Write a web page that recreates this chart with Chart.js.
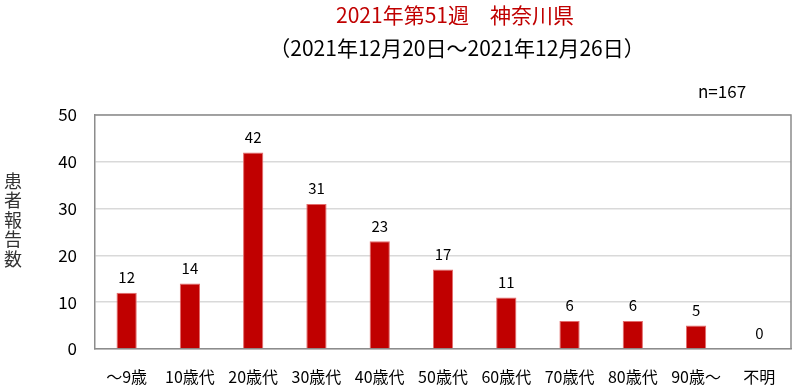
<!DOCTYPE html>
<html>
<head>
<meta charset="utf-8">
<script src="https://cdn.jsdelivr.net/npm/chart.js@4"></script>
<style>
  html, body { margin: 0; padding: 0; background: #fff; }
  #wrap { width: 794px; height: 390px; position: relative; }
</style>
</head>
<body>
<div id="wrap"><canvas id="chart" width="794" height="390"></canvas></div>
<script>
// chart data
const categories = ['～9歳', '10歳代', '20歳代', '30歳代', '40歳代', '50歳代', '60歳代', '70歳代', '80歳代', '90歳～', '不明'];
const patients = [12, 14, 42, 31, 23, 17, 11, 6, 6, 5, 0];
const yTicks = [0, 10, 20, 30, 40, 50];
const titleText = '2021年第51週　神奈川県';
const subtitleText = '（2021年12月20日～2021年12月26日）';
const countText = 'n=167';
const yTitle = '患者報告数';

const FONT = "'Noto Sans CJK JP', 'Noto Sans', sans-serif";

// draws titles, n=, vertical axis title and the value labels
const textPlugin = {
  id: 'texts',
  afterDatasetsDraw(chart) {
    const ctx = chart.ctx;
    ctx.save();
    ctx.textAlign = 'center';
    ctx.textBaseline = 'middle';

    ctx.fillStyle = '#c00000';
    ctx.font = '21px ' + FONT;
    ctx.fillText(titleText, 455, 15);

    ctx.fillStyle = '#000';
    ctx.font = '21px ' + FONT;
    ctx.fillText(subtitleText, 457, 48);

    ctx.font = '17px ' + FONT;
    ctx.textAlign = 'left';
    ctx.fillText(countText, 698, 92);

    // vertical y axis title, one char per row
    ctx.textAlign = 'center';
    ctx.fillStyle = '#333';
    ctx.font = '18px ' + FONT;
    [...yTitle].forEach((ch, i) => {
      ctx.fillText(ch, 13, 181 + i * 19.5);
    });

    // value labels on the bars
    ctx.fillStyle = '#000';
    ctx.font = '15px ' + FONT;
    ctx.textBaseline = 'bottom';
    const meta = chart.getDatasetMeta(0);
    meta.data.forEach((bar, i) => {
      ctx.fillText(String(patients[i]), bar.x, bar.y - 8);
    });
    ctx.restore();
  }
};

const ctx = document.getElementById('chart').getContext('2d');
new Chart(ctx, {
  type: 'bar',
  data: {
    labels: categories,
    datasets: [{
      data: patients,
      backgroundColor: '#c00000',
      borderColor: '#e36c6c',
      borderWidth: { left: 1, right: 1, top: 1, bottom: 0 },
      barPercentage: 0.32,
      categoryPercentage: 1.0
    }]
  },
  options: {
    responsive: false,
    animation: false,
    layout: { padding: { top: 115, right: 3, left: 0, bottom: 0 } },
    plugins: {
      legend: { display: false },
      title: { display: false },
      tooltip: { enabled: false }
    },
    scales: {
      x: {
        grid: { display: false, drawTicks: false },
        border: { color: '#8c8c8c', width: 1.5 },
        ticks: {
          color: '#000',
          font: { family: FONT, size: 16 },
          padding: 18,
          maxRotation: 0,
          autoSkip: false
        },
        afterFit: (scale) => { scale.height = 41; }
      },
      y: {
        min: 0,
        max: 50,
        afterBuildTicks: (scale) => { scale.ticks = yTicks.map(v => ({ value: v })); },
        grid: { color: '#d9d9d9', lineWidth: 1.5, drawTicks: false },
        border: { color: '#8c8c8c', width: 1.5 },
        ticks: {
          color: '#000',
          font: { family: FONT, size: 17 },
          padding: 18
        },
        afterFit: (scale) => { scale.width = 95; }
      }
    }
  },
  plugins: [textPlugin, {
    id: 'frame',
    afterDraw(chart) {
      const a = chart.chartArea;
      const c = chart.ctx;
      c.save();
      c.strokeStyle = '#8c8c8c';
      c.lineWidth = 1.5;
      c.beginPath();
      c.moveTo(a.left, a.top);
      c.lineTo(a.right, a.top);
      c.lineTo(a.right, a.bottom);
      c.stroke();
      c.restore();
    }
  }]
});
</script>
</body>
</html>
